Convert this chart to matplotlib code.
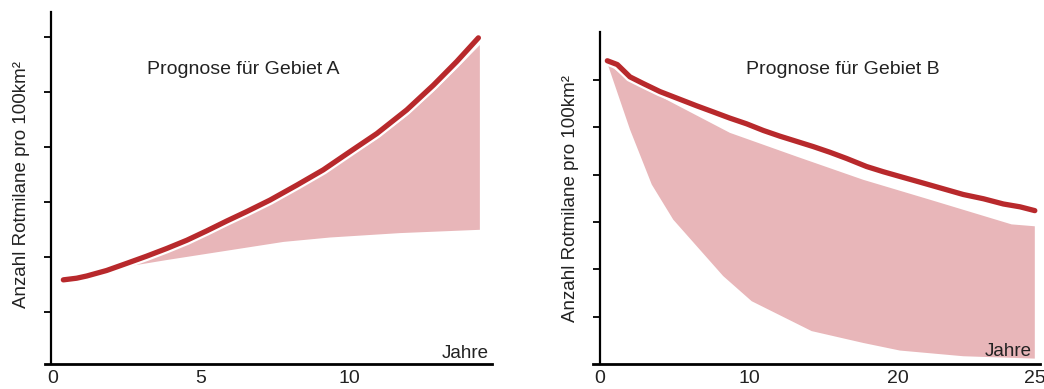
import numpy as np
import matplotlib
matplotlib.use("Agg")
import matplotlib.pyplot as plt
import matplotlib.patheffects as pe

plt.rcParams['font.family'] = ['Liberation Sans', 'DejaVu Sans']

# ---- Data: Gebiet A ----
a_line_t = [0.35, 0.80, 1.14, 1.81, 2.49, 3.16, 3.84, 4.52, 5.19, 5.87, 6.54, 7.33,
            8.23, 9.13, 10.03, 10.94, 11.95, 12.85, 13.64, 14.37]
a_line_v = [1.58, 1.61, 1.65, 1.75, 1.88, 2.01, 2.15, 2.30, 2.47, 2.65, 2.82, 3.03,
            3.30, 3.58, 3.91, 4.24, 4.67, 5.12, 5.55, 5.98]
a_up_t = [0.35, 0.80, 1.14, 1.81, 2.49, 3.16, 3.84, 4.52, 5.19, 5.87, 6.54, 7.33,
          8.23, 9.13, 10.03, 10.94, 11.95, 12.85, 13.64, 14.42]
a_up_v = [1.58, 1.60, 1.64, 1.73, 1.86, 1.99, 2.12, 2.27, 2.43, 2.60, 2.77, 2.97,
          3.23, 3.50, 3.82, 4.14, 4.56, 5.00, 5.42, 5.85]
a_lo_t = [0.35, 1.14, 2.49, 3.84, 7.79, 9.36, 11.72, 14.42]
a_lo_v = [1.58, 1.63, 1.82, 1.94, 2.27, 2.35, 2.43, 2.49]

# ---- Data: Gebiet B ----
b_line_t = [0.49, 1.16, 2.01, 2.90, 4.02, 5.25, 6.48, 7.60, 8.71, 9.83, 10.95, 12.06,
            13.18, 14.30, 15.42, 16.53, 17.87, 18.99, 20.18, 20.92, 21.65, 22.38,
            23.12, 23.85, 24.46, 25.0]
b_line_v = [6.40, 6.32, 6.06, 5.92, 5.75, 5.60, 5.45, 5.32, 5.19, 5.07, 4.93, 4.81,
            4.70, 4.59, 4.47, 4.34, 4.17, 4.06, 3.94, 3.82, 3.70, 3.58,
            3.49, 3.38, 3.32, 3.24]
b_up_t = [0.49, 2.01, 4.02, 8.71, 13.18, 17.65, 21.16, 24.15, 25.0]
b_up_v = [6.35, 5.96, 5.65, 4.88, 4.38, 3.89, 3.47, 2.95, 2.91]
b_lo_t = [0.49, 2.01, 3.47, 4.91, 8.26, 10.17, 14.19, 17.65, 20.06, 22.38, 25.0]
b_lo_v = [6.35, 4.95, 3.79, 3.05, 1.86, 1.33, 0.70, 0.45, 0.29, 0.17, 0.12]

y_ticks = [1, 2, 3, 4, 5, 6]
a_xticks = [0, 5, 10]
a_xlabels = ["0", "5", "10"]
b_xticks = [0, 10, 20, 25]
b_xlabels = ["0", "10", "20", "25"]

titles = ["Prognose für Gebiet A", "Prognose für Gebiet B"]
ylabel = "Anzahl Rotmilane pro 100km²"
xlabel = "Jahre"

RED = "#b8292c"
PINK = "#e8b6b9"
TXT = "#222222"

W, H = 1044, 389
fig = plt.figure(figsize=(W / 100, H / 100), dpi=100)


def fx(px):
    return px / W


def fy(py):
    return 1 - py / H


axA = fig.add_axes([fx(45), fy(364), fx(492 - 45), (364 - 12) / H])
axB = fig.add_axes([fx(592.7), fy(364.3), fx(1040 - 592.7), (364.3 - 32.3) / H])

# scale for B (x-axis labels not evenly spaced in the original)
K = 1.83


def fwd(t):
    t = np.asarray(t, dtype=float)
    return np.where(t <= 20, t, 20 + (t - 20) * K)


def inv(d):
    d = np.asarray(d, dtype=float)
    return np.where(d <= 20, d, 20 + (d - 20) / K)


axB.set_xscale('function', functions=(fwd, inv))

stroke = [pe.Stroke(linewidth=7, foreground='white'), pe.Normal()]

# Panel A
axA.fill(a_up_t + a_lo_t[::-1], a_up_v + a_lo_v[::-1], color=PINK, lw=0, zorder=1)
axA.plot(a_line_t, a_line_v, color=RED, lw=3.8, solid_capstyle='round',
         solid_joinstyle='round', zorder=3, path_effects=stroke)
axA.set_xlim(-0.27, 14.83)
axA.set_ylim(0.05, 6.45)

# Panel B
axB.fill(b_up_t + b_lo_t[::-1], b_up_v + b_lo_v[::-1], color=PINK, lw=0, zorder=1)
axB.plot(b_line_t, b_line_v, color=RED, lw=3.8, solid_capstyle='round',
         solid_joinstyle='round', zorder=3, path_effects=stroke)
axB.set_xlim(-0.49, 25.19)
axB.set_ylim(0.0, 7.0)

for ax, sp, xt, xl in [(axA, -0.07, a_xticks, a_xlabels), (axB, 0.0, b_xticks, b_xlabels)]:
    ax.spines['top'].set_visible(False)
    ax.spines['right'].set_visible(False)
    ax.spines['left'].set_position(('data', sp))
    ax.spines['left'].set_linewidth(1.6)
    ax.spines['bottom'].set_linewidth(2.0)
    ax.set_yticks(y_ticks)
    ax.set_yticklabels([])
    ax.tick_params(axis='y', length=5, width=1.3, direction='out')
    ax.set_xticks(xt)
    ax.set_xticklabels(xl, fontsize=14, color=TXT)
    ax.tick_params(axis='x', length=0, pad=4)
    ax.patch.set_alpha(0)

fig.text(fx(243), fy(69), titles[0], ha='center', va='center', fontsize=14, color=TXT)
fig.text(fx(843), fy(69), titles[1], ha='center', va='center', fontsize=14, color=TXT)
fig.text(fx(22), fy(185), ylabel, rotation=90, ha='center', va='center', fontsize=13.5, color=TXT)
fig.text(fx(570), fy(198), ylabel, rotation=90, ha='center', va='center', fontsize=13.5, color=TXT)
fig.text(fx(489), fy(353), xlabel, ha='right', va='center', fontsize=13.5, color=TXT)
fig.text(fx(1032), fy(351.7), xlabel, ha='right', va='center', fontsize=13.5, color=TXT)

fig.savefig("out.png", dpi=100)
